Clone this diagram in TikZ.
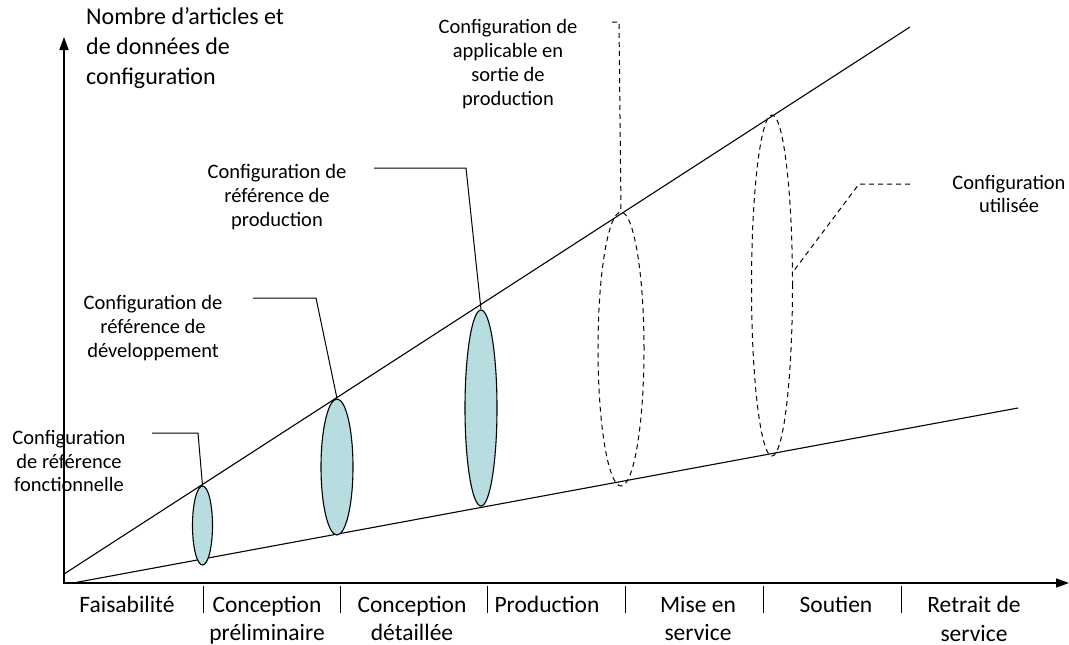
\documentclass[tikz,border=0pt]{standalone}
\usepackage{fontspec}
\setmainfont{Carlito}
\usetikzlibrary{positioning,arrows.meta,shapes.geometric}
\definecolor{turquesa}{HTML}{B7DDE0}

\begin{document}
\begin{tikzpicture}[x=1pt,y=-1pt,
      etiqueta/.style={align=center,font=\fontsize{20.5}{23.8}\selectfont,inner sep=0pt},
      fase/.style={align=center,font=\fontsize{23.5}{28.5}\selectfont,inner sep=0pt,anchor=north},
      base/.style={ellipse,draw,fill=turquesa,inner sep=0pt,line width=1.1pt},
      usada/.style={ellipse,draw,dash pattern=on 5pt off 4pt,inner sep=0pt,line width=1pt},
      guia/.style={line width=1pt},
      guiapunt/.style={line width=1pt,dash pattern=on 5pt off 4pt},
      eje/.style={line width=1.6pt,{Triangle[length=13pt,width=9pt]}-{Triangle[length=13pt,width=9pt]}}]
    \useasboundingbox (0,0) rectangle (1069,645);
    \draw[eje] (64,37) -- (64,583) -- (1069,583);
    \node[anchor=west,align=left,font=\fontsize{24}{30}\selectfont,inner sep=0pt] (eje) at (86,48)
      {Nombre d’articles et\\ de données de\\ configuration};
    \draw[line width=1.1pt] (64,574) -- (910,27);
    \draw[line width=1.1pt] (73,583) -- (1018,408);
    \node[base,minimum width=20,minimum height=79] (e1) at (202.5,525.5) {};
    \node[base,minimum width=32,minimum height=136] (e2) at (337,467) {};
    \node[base,minimum width=32,minimum height=196] (e3) at (481,408) {};
    \node[usada,minimum width=46,minimum height=274] (e4) at (621,349) {};
    \node[usada,minimum width=41,minimum height=341] (e5) at (772,285.5) {};
    \node[etiqueta] (l1) at (69,461) {Configuration\\ de référence\\ fonctionnelle};
    \node[etiqueta] (l2) at (153,328) {Configuration de\\ référence de\\ développement};
    \node[etiqueta] (l3) at (277,197) {Configuration de\\ référence de\\ production};
    \node[etiqueta] (l4) at (508,64) {Configuration de\\ applicable en\\ sortie de\\ production};
    \node[etiqueta] (l5) at (1009,194) {Configuration\\ utilisée};
    \coordinate (g1a) at (152,433); \coordinate (g1b) at (198,433);
    \coordinate (g2a) at (253,298); \coordinate (g2b) at (316,298);
    \coordinate (g3a) at (374,168); \coordinate (g3b) at (466,168);
    \coordinate (g4a) at (612,22);  \coordinate (g4b) at (619,22);
    \coordinate (g5a) at (910,184); \coordinate (g5b) at (859,184);
    \draw[guia] (g1a) -- (g1b) -- (e1.north);
    \draw[guia] (g2a) -- (g2b) -- (e2.north);
    \draw[guia] (g3a) -- (g3b) -- (e3.north);
    \draw[guiapunt] (g4a) -- (g4b) -- (e4.north);
    \draw[guiapunt] (g5a) -- (g5b) -- (e5.33);
    \foreach \x in {203,340,487,625,763,901}
      \draw[line width=1pt] (\x,586) -- (\x,613);
    \node[fase] (f1) at (127,596) {Faisabilité};
    \node[fase] (f2) at (267,596) {Conception\\ préliminaire};
    \node[fase] (f3) at (412,596) {Conception\\ détaillée};
    \node[fase] (f4) at (547,596) {Production};
    \node[fase] (f5) at (698,596) {Mise en\\ service};
    \node[fase] (f6) at (836,596) {Soutien};
    \node[fase] (f7) at (974,596) {Retrait de\\ service};
  \end{tikzpicture}
\end{document}
